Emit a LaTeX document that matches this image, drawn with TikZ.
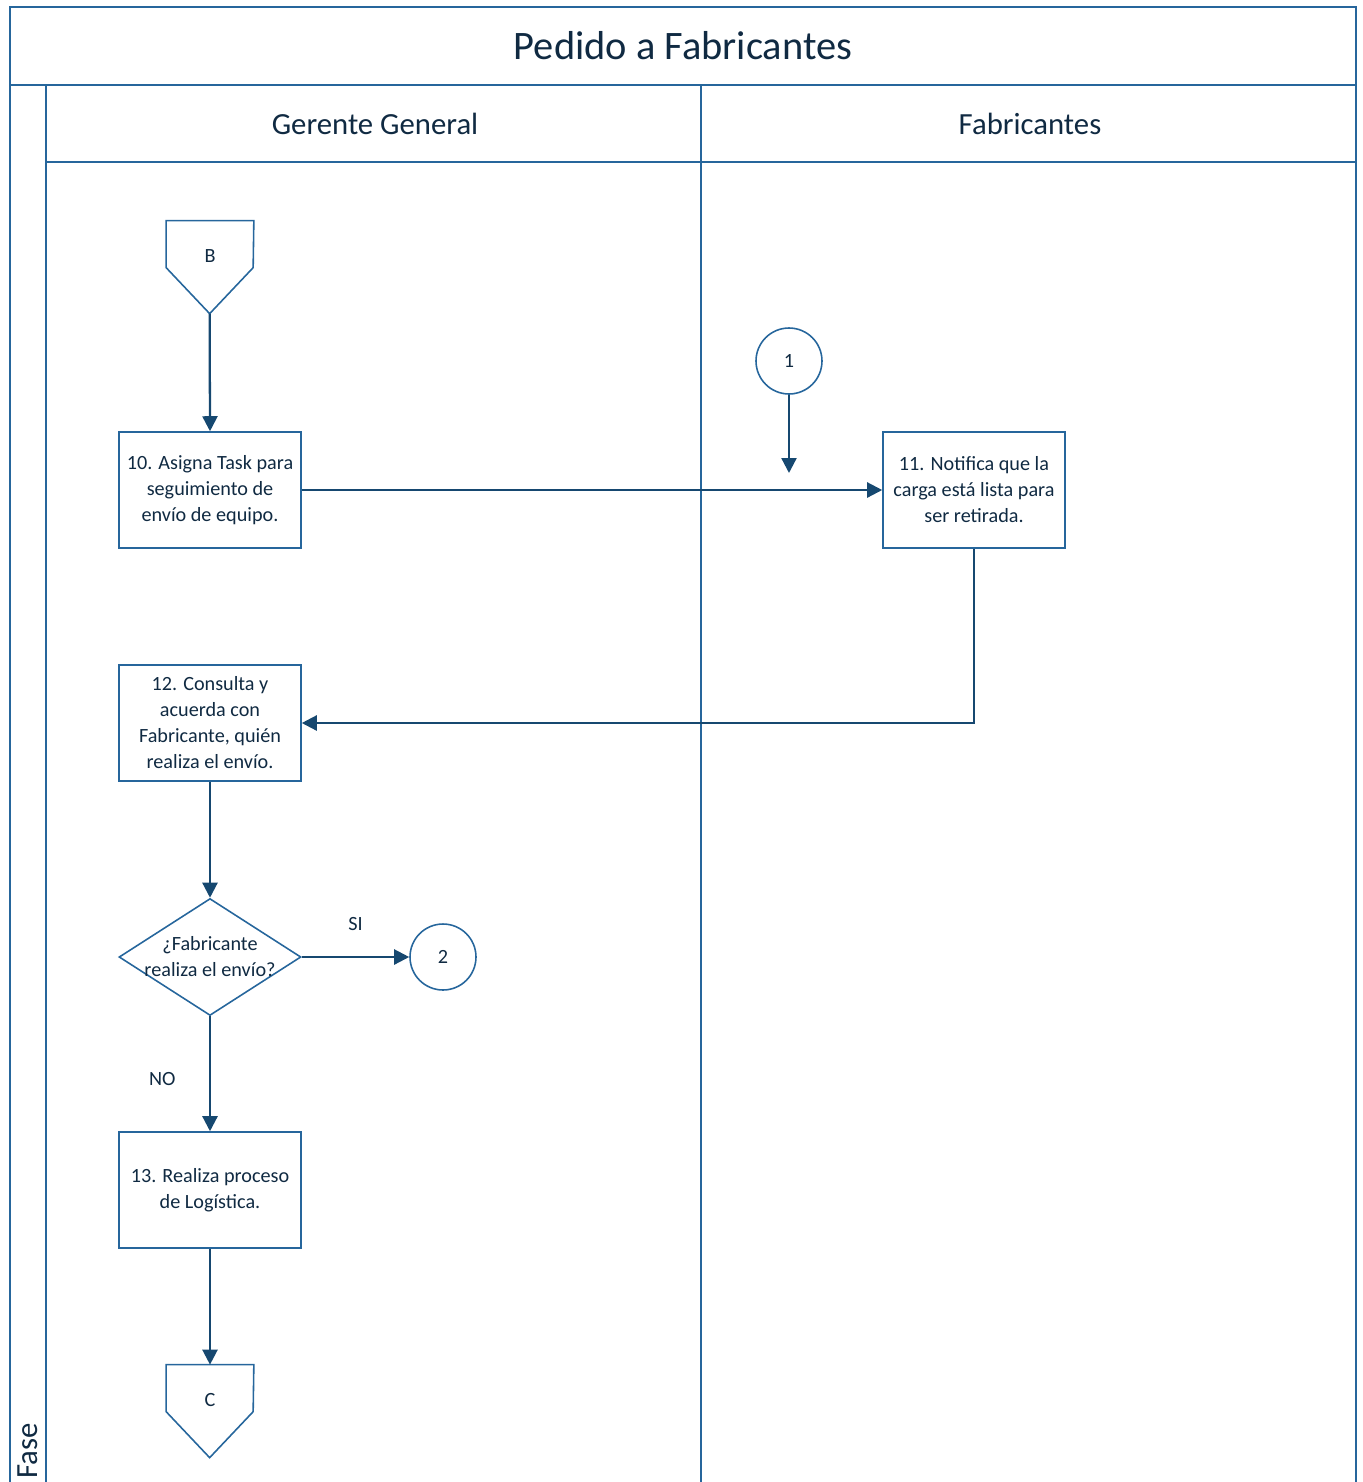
\documentclass[tikz,border=0pt]{standalone}
\usepackage{fontspec}
\setmainfont{Carlito}
\usetikzlibrary{shapes.geometric,arrows.meta}
\definecolor{laneblue}{RGB}{38,102,156}
\definecolor{flowblue}{RGB}{22,72,112}
\definecolor{inkblue}{RGB}{16,42,66}

\begin{document}
\begin{tikzpicture}[x=0.02cm, y=-0.02cm,
  lane/.style={draw=laneblue, line width=1.2pt},
  heading/.style={text=inkblue, font=\fontsize{17.5}{20}\selectfont},
  task/.style={rectangle, draw=laneblue, line width=0.9pt,
               minimum width=3.64cm, minimum height=2.32cm, inner sep=0pt,
               align=center, text=inkblue, font=\fontsize{11.5}{14.8}\selectfont},
  decision/.style={diamond, draw=laneblue, line width=0.9pt, aspect=1.56,
                   minimum width=3.64cm, minimum height=2.34cm, inner sep=0pt,
                   align=center, text=inkblue, font=\fontsize{11.5}{14.8}\selectfont},
  link/.style={circle, draw=laneblue, line width=0.9pt, minimum size=1.32cm,
               inner sep=0pt, text=inkblue, font=\fontsize{11.5}{13}\selectfont},
  offpage/.style={rectangle, minimum width=1.74cm, minimum height=1.4cm,
                  inner sep=0pt, text=inkblue, font=\fontsize{11.5}{13}\selectfont},
  pentagon/.style={draw=laneblue, line width=0.9pt},
  tag/.style={text=inkblue, font=\fontsize{11.5}{13}\selectfont},
  arrow/.style={-{Triangle[length=0.3cm,width=0.3cm]}, line width=1.3pt, flowblue}
]
  \useasboundingbox (0,0) rectangle (1363,1482);

  % pool and lanes
  \draw[lane] (10,1482) -- (10,7) -- (1356,7) -- (1356,1482);
  \draw[lane] (10,85) -- (1356,85);
  \draw[lane] (46,85) -- (46,1482);
  \draw[lane] (46,162) -- (1356,162);
  \draw[lane] (701,85) -- (701,1482);
  \node[text=inkblue, font=\fontsize{23}{26}\selectfont] (title) at (683,46) {Pedido a Fabricantes};
  \node[heading] (gerente) at (375,124) {Gerente General};
  \node[heading] (fabric) at (1030,124) {Fabricantes};
  \node[heading, rotate=90] (fase) at (28,1451) {Fase};

  % off-page connectors
  \node[offpage] (B) at (210,256) {B};
  \draw[pentagon] (B.north east) -- (B.north west) -- ++(0,47)
    -- ++(43.5,46) coordinate (Btip) -- ++(43.5,-46) -- cycle;
  \node[offpage] (C) at (210,1400) {C};
  \draw[pentagon] (C.north east) -- (C.north west) -- ++(0,47)
    -- ++(43.5,46) coordinate (Ctip) -- ++(43.5,-46) -- cycle;

  \node[task] (t10) at (210,490) {10. Asigna Task para\\seguimiento de\\envío de equipo.};
  \node[task] (t11) at (974,490) {11. Notifica que la\\carga está lista para\\ser retirada.};
  \node[task] (t12) at (210,723) {12. Consulta y\\acuerda con\\Fabricante, quién\\realiza el envío.};
  \node[decision] (dec) at (210,957) {\makebox[0pt]{¿Fabricante}\\\makebox[0pt]{realiza el envío?}};
  \node[task] (t13) at (210,1190) {13. Realiza proceso\\de Logística.};
  \node[link] (c1) at (789,361) {1};
  \node[link] (c2) at (443,957) {2};
  \coordinate (c1end) at (789,473);

  \draw[arrow] (Btip) -- (t10.north);
  \draw[arrow] (c1) -- (c1end);
  \draw[arrow] (t10.east) -- (t11.west);
  \draw[arrow] (t11.south) |- (t12.east);
  \draw[arrow] (t12.south) -- (dec.north);
  \draw[arrow] (dec.east) -- (c2.west) node[tag, midway, above=0.5cm, yshift=-0.12cm] (si) {SI};
  \draw[arrow] (dec.south) -- (t13.north) node[tag, midway, left=0.55cm, yshift=-0.1cm] (no) {NO};
  \draw[arrow] (t13.south) -- (C.north);
\end{tikzpicture}
\end{document}
